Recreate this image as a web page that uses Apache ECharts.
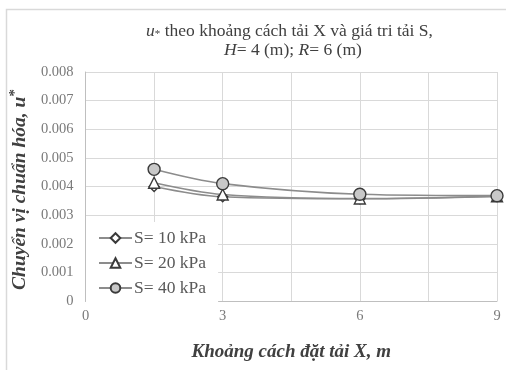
<!DOCTYPE html>
<html>
<head>
<meta charset="utf-8">
<script src="https://cdn.jsdelivr.net/npm/echarts@6/dist/echarts.min.js"></script>
<style>
  html, body { margin: 0; padding: 0; background: #fff; }
  #chart { width: 506px; height: 370px; }
</style>
</head>
<body>
<div id="chart"></div>
<script>
// khoang cach dat tai X (m)
const xValues = [1.5, 3, 6, 9];
const s10 = [0.0040, 0.00364, 0.00357, 0.00365];
const s20 = [0.00413, 0.00372, 0.00358, 0.00366];
const s40 = [0.0046, 0.0041, 0.00373, 0.00368];
const seriesNames = ['S= 10 kPa', 'S= 20 kPa', 'S= 40 kPa'];

const serif = '"Liberation Serif", "DejaVu Serif", serif';

const chart = echarts.init(document.getElementById('chart'));

function pairs(ys) {
  return xValues.map((x, i) => [x, ys[i]]);
}

function lineSeries(name, ys, symbol, size, fill) {
  return {
    name: name,
    type: 'line',
    data: pairs(ys),
    smooth: 0.35,
    symbol: symbol,
    symbolSize: size,
    lineStyle: { color: '#8c8c8c', width: 1.6 },
    itemStyle: { color: fill, borderColor: '#3a3a3a', borderWidth: 1.4 },
    emphasis: { disabled: true }
  };
}

const titleSize = 17.5;

const option = {
  animation: false,
  backgroundColor: '#fff',
  textStyle: { fontFamily: serif },
  title: [
    {
      text: '{i|u}{s|*} theo khoảng cách tải X và giá tri tải S,',
      left: 146,
      top: 22,
      padding: 0,
      textStyle: {
        fontSize: titleSize,
        fontWeight: 'normal',
        color: '#404040',
        fontFamily: serif,
        rich: {
          i: { fontSize: titleSize, fontStyle: 'italic', color: '#404040', fontFamily: serif },
          s: { fontSize: 11, color: '#404040', fontFamily: serif, padding: [7, 0, 0, 0] }
        }
      }
    },
    {
      text: '{i|H}= 4 (m); {i|R}= 6 (m)',
      left: 224,
      top: 41,
      padding: 0,
      textStyle: {
        fontSize: titleSize,
        fontWeight: 'normal',
        color: '#404040',
        fontFamily: serif,
        rich: {
          i: { fontSize: titleSize, fontStyle: 'italic', color: '#404040', fontFamily: serif }
        }
      }
    }
  ],
  graphic: [
    {
      type: 'rect',
      shape: { x: 6.5, y: 9.5, width: 520, height: 380 },
      style: { fill: 'none', stroke: '#d9d9d9', lineWidth: 1.5 },
      silent: true
    }
  ],
  legend: {
    orient: 'vertical',
    left: 86,
    top: 222,
    padding: [7, 12, 6, 12],
    itemGap: 7,
    itemWidth: 33,
    itemHeight: 12,
    backgroundColor: '#fff',
    data: seriesNames,
    textStyle: { fontFamily: serif, fontSize: 17.5, color: '#595959', padding: [0, 0, 0, -3] }
  },
  grid: { left: 85, right: 9, top: 72, bottom: 69 },
  xAxis: {
    type: 'value',
    min: 0,
    max: 9,
    interval: 3,
    name: 'Khoảng cách đặt tải X, m',
    nameLocation: 'middle',
    nameGap: 42,
    nameTextStyle: { fontFamily: serif, fontSize: 19, fontWeight: 'bold', fontStyle: 'italic', color: '#404040' },
    axisLine: { show: true, lineStyle: { color: '#bfbfbf', width: 1 } },
    axisTick: { show: false },
    minorTick: { show: false, splitNumber: 2 },
    minorSplitLine: { show: true, lineStyle: { color: '#d9d9d9', width: 1 } },
    splitLine: { show: true, lineStyle: { color: '#d9d9d9', width: 1 } },
    axisLabel: { fontFamily: serif, fontSize: 14.5, color: '#7a7a7a', margin: 8 }
  },
  yAxis: {
    type: 'value',
    min: 0,
    max: 0.008,
    interval: 0.001,
    name: '{t|Chuyển vị chuẩn hóa, u}{s|*}',
    nameLocation: 'middle',
    nameGap: 32,
    nameTextStyle: {
      padding: [0, 6, 0, 0],
      rich: {
        t: { fontFamily: serif, fontSize: 19.5, fontWeight: 'bold', fontStyle: 'italic', color: '#404040' },
        s: { fontFamily: serif, fontSize: 15, fontWeight: 'bold', color: '#404040', padding: [0, 0, 9, 0] }
      }
    },
    axisLine: { show: true, lineStyle: { color: '#bfbfbf', width: 1 } },
    axisTick: { show: false },
    splitLine: { show: true, lineStyle: { color: '#d9d9d9', width: 1 } },
    axisLabel: {
      fontFamily: serif,
      fontSize: 14.5,
      color: '#7a7a7a',
      margin: 12,
      formatter: v => (v === 0 ? '0' : v.toFixed(3))
    }
  },
  series: [
    lineSeries(seriesNames[0], s10, 'diamond', 10, '#ffffff'),
    lineSeries(seriesNames[1], s20, 'triangle', 11, '#ffffff'),
    lineSeries(seriesNames[2], s40, 'circle', 12, '#c8c8c8')
  ]
};

chart.setOption(option);
</script>
</body>
</html>
